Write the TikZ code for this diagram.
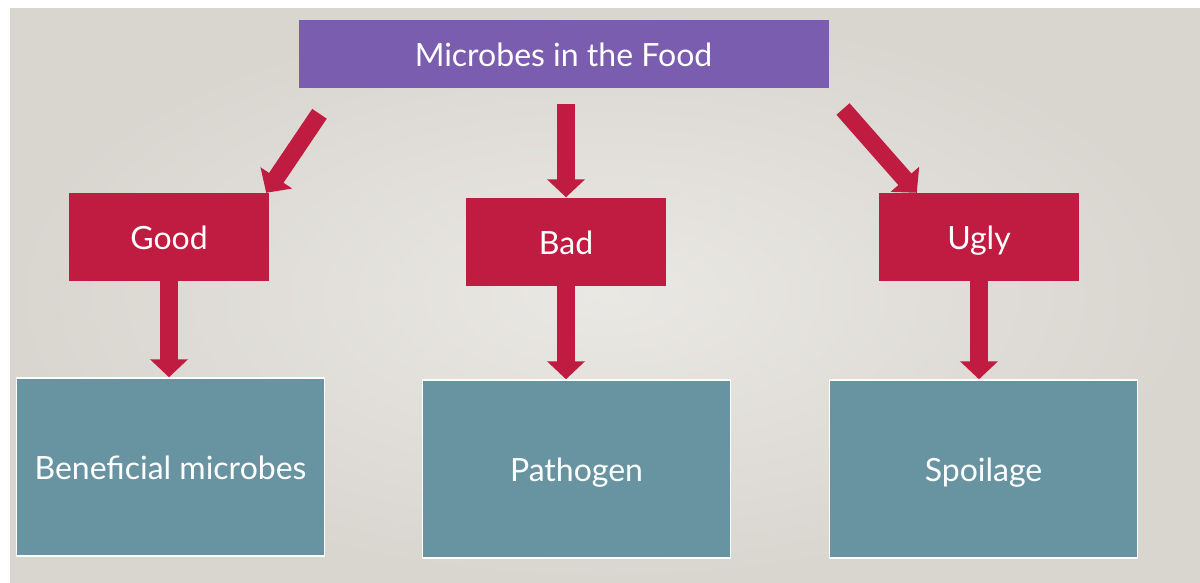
\documentclass[tikz,border=0pt]{standalone}
\usepackage{fontspec}
\setmainfont{Lato}
\usepackage{xcolor}
\usetikzlibrary{arrows.meta}

\definecolor{boxpurple}{HTML}{7A5DAE}
\definecolor{boxred}{HTML}{C01B40}
\definecolor{boxteal}{HTML}{6893A1}
\definecolor{bgin}{HTML}{EAE8E4}
\definecolor{bgout}{HTML}{D9D6D0}

\tikzset{
    boxtext/.style={text=white, font=\fontsize{32}{36}\selectfont, inner sep=0pt, text height=25pt, text depth=0pt},
    topbox/.style={boxtext, fill=boxpurple, minimum width=530pt, minimum height=68pt},
    kindbox/.style={boxtext, fill=boxred, minimum width=200pt, minimum height=88pt},
    resultbox/.style={boxtext, fill=boxteal, draw=white, line width=1.5pt, minimum width=308pt, minimum height=178pt},
    blockarrow/.style={draw=boxred, line width=17.5pt, -{Triangle[length=18pt, width=37pt]}}
}

\begin{document}
\begin{tikzpicture}[x=1pt, y=-1pt]
    \useasboundingbox (0,0) rectangle (1200,582);
    \fill[white] (0,0) rectangle (1200,582);
    \shade[inner color=bgin, outer color=bgout] (10,8) rectangle (1200,582);

    \node[topbox] (food) at (563.5,54) {Microbes in the Food};

    \node[kindbox] (good) at (169,237) {Good};
    \node[kindbox] (bad) at (566,241.5) {Bad};
    \node[kindbox] (ugly) at (979,237) {Ugly};

    \node[resultbox] (benef) at (170.5,467) {Beneficial microbes};
    \node[resultbox] (patho) at (576.5,469) {Pathogen};
    \node[resultbox] (spoil) at (983.5,469) {Spoilage};

    \coordinate (lefttail) at (319.5,113.8);
    \coordinate (midtail) at (566,104);
    \coordinate (righttail) at (843,109);

    \draw[blockarrow] (lefttail) -- ([xshift=-3pt]good.north east);
    \draw[blockarrow] (midtail) -- (midtail |- bad.north);
    \draw[blockarrow] (righttail) -- ([xshift=38pt]ugly.north west);

    \draw[blockarrow] (good.south) -- (good.south |- benef.north);
    \draw[blockarrow] (bad.south) -- (bad.south |- patho.north);
    \draw[blockarrow] (ugly.south) -- (ugly.south |- spoil.north);
\end{tikzpicture}
\end{document}
